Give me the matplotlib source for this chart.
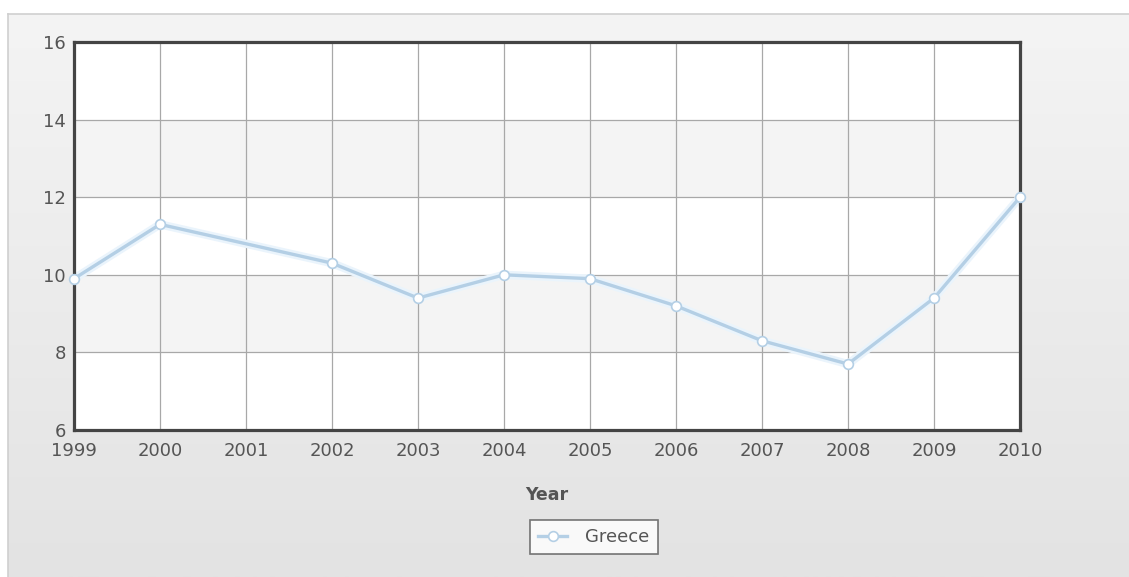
import numpy as np
import matplotlib
matplotlib.use('Agg')
import matplotlib.pyplot as plt

# Greece series, no value reported for 2001
years = [1999, 2000, 2002, 2003, 2004, 2005, 2006, 2007, 2008, 2009, 2010]
values = [9.9, 11.3, 10.3, 9.4, 10.0, 9.9, 9.2, 8.3, 7.7, 9.4, 12.0]
year_ticks = list(range(1999, 2011))
y_ticks = [6, 8, 10, 12, 14, 16]
series_name = "Greece"

plt.rcParams['font.family'] = ['DejaVu Sans']

W, H = 1129, 577
fig = plt.figure(figsize=(W / 100, H / 100), dpi=100)
fig.patch.set_facecolor('white')

# light gray panel with vertical gradient behind everything
bg = fig.add_axes([8 / W, 0, 1 - 8 / W, 1 - 14 / H], zorder=-10)
grad = np.linspace(0, 1, 256).reshape(-1, 1)
bg.imshow(grad, aspect='auto', cmap=matplotlib.colors.LinearSegmentedColormap.from_list(
    'bg', ['#f4f4f4', '#e3e3e3']), extent=[0, 1, 0, 1], origin='upper')
bg.set_xticks([])
bg.set_yticks([])
for side, s in bg.spines.items():
    if side in ('right', 'bottom'):
        s.set_visible(False)
    else:
        s.set_color('#cfcfcf')
        s.set_linewidth(1.2)

ax = fig.add_axes([74 / W, 1 - 430 / H, (1020 - 74) / W, (430 - 42) / H])
ax.set_facecolor('white')

# alternating horizontal bands
for i in range(len(y_ticks) - 1):
    if i % 2 == 1:
        ax.axhspan(y_ticks[i], y_ticks[i + 1], color='#f4f4f4', zorder=0, lw=0)

ax.set_xlim(year_ticks[0], year_ticks[-1])
ax.set_ylim(y_ticks[0], y_ticks[-1])
ax.set_xticks(year_ticks)
ax.set_yticks(y_ticks)
ax.grid(True, color='#a8a8a8', linewidth=0.9, zorder=1)
ax.set_axisbelow(True)
ax.tick_params(length=0, labelsize=13, labelcolor='#555555', pad=6)
ax.tick_params(axis='x', pad=9)
for s in ax.spines.values():
    s.set_color('#444444')
    s.set_linewidth(2.3)

# soft glow under the line
ax.plot(years, values, color='#eaf4fc', linewidth=6, zorder=2, solid_capstyle='round')
ax.plot(years, values, color='#b4cfe5', linewidth=2.4, marker='o', markersize=7,
        markerfacecolor='white', markeredgecolor='#b4cfe5', markeredgewidth=1.2,
        zorder=3, clip_on=False, label=series_name)

ax.set_xlabel("Year", fontsize=12.5, fontweight='bold', color='#555555', labelpad=18)

leg = fig.legend(loc='center', bbox_to_anchor=(594 / W, 1 - 537 / H), frameon=True,
                 fancybox=False, fontsize=13, handlelength=1.6, borderpad=0.45,
                 handletextpad=1.0, borderaxespad=0)
leg.get_frame().set_edgecolor('#555555')
leg.get_frame().set_linewidth(1.2)
for t in leg.get_texts():
    t.set_color('#555555')

fig.savefig('out.png', dpi=100)
